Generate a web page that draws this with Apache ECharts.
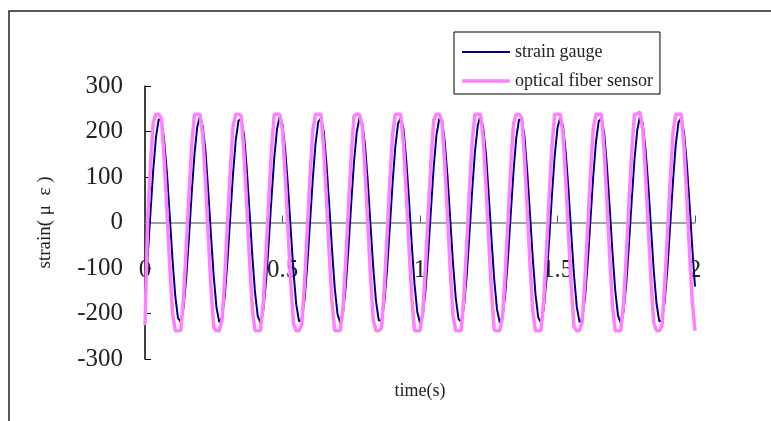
<!DOCTYPE html>
<html>
<head>
<meta charset="utf-8">
<title>strain - time</title>
<script src="https://cdn.jsdelivr.net/npm/echarts@6/dist/echarts.min.js"></script>
<style>
  html, body { margin: 0; padding: 0; background: #fff; }
  #chart { width: 771px; height: 421px; }
</style>
</head>
<body>
<div id="chart"></div>
<script>
  /** 取樣間隔 (s) */
  const sampleStep = 0.01

  /** strain gauge 讀值 (με), 0 ~ 2 s */
  const strainGauge = [
    -158, -72, 23, 116, 188, 227, 225, 178, 107, 14,
    -81, -161, -210, -219, -188, -121, -31, 66, 151, 210,
    234, 211, 157, 68, -29, -119, -187, -219, -210, -162,
    -83, 12, 106, 181, 224, 227, 193, 118, 25, -71,
    -153, -206, -221, -194, -131, -42, 54, 142, 205, 233,
    215, 158, 79, -17, -109, -180, -217, -214, -170, -94,
    0, 95, 173, 221, 229, 199, 128, 37, -59, -144,
    -201, -221, -199, -140, -54, 43, 133, 199, 230, 219,
    170, 90, -6, -99, -173, -215, -216, -177, -104, -12,
    84, 165, 217, 230, 205, 137, 49, -48, -135, -196,
    -221, -204, -149, -65, 31, 123, 193, 228, 226, 177,
    101, 6, -89, -166, -212, -218, -184, -115, -23, 73,
    157, 213, 235, 207, 150, 60, -37, -126, -191, -220,
    -208, -157, -76, 19, 112, 186, 226, 226, 188, 111,
    18, -78, -158, -209, -220, -190, -124, -35, 62, 148,
    208, 231, 212, 153, 71, -25, -116, -185, -219, -212,
    -165, -87, 8, 102, 178, 223, 228, 195, 121, 30,
    -67, -150, -204, -221, -196, -134, -46, 50, 139, 203,
    233, 217, 161, 83, -13, -106, -178, -217, -215, -172,
    -98, -4, 91, 171, 220, 229, 198, 131, 41, -55,
    -141
  ]

  /** optical fiber sensor 讀值 (με) */
  const fiberSensor = [
    -226, 11, 127, 220, 238, 238, 227, 137, 22, -96,
    -197, -238, -238, -238, -166, -56, 64, 172, 238, 238,
    238, 191, 89, -31, -144, -231, -238, -238, -215, -120,
    -3, 114, 211, 238, 238, 235, 150, 37, -83, -187,
    -238, -238, -238, -177, -70, 50, 160, 238, 238, 238,
    202, 102, -16, -132, -223, -238, -238, -224, -133, -18,
    101, 201, 238, 238, 238, 162, 51, -69, -176, -238,
    -238, -238, -188, -84, 35, 148, 234, 238, 238, 212,
    116, -2, -119, -214, -238, -238, -232, -145, -32, 87,
    190, 238, 238, 238, 173, 65, -54, -164, -238, -238,
    -238, -199, -98, 21, 136, 226, 238, 238, 221, 129,
    13, -105, -204, -238, -238, -238, -158, -46, 73, 180,
    238, 238, 238, 184, 79, -40, -152, -237, -238, -238,
    -209, -111, 6, 123, 217, 238, 238, 230, 141, 27,
    -92, -194, -238, -238, -238, -170, -61, 59, 168, 238,
    238, 238, 195, 93, -26, -140, -229, -238, -238, -218,
    -124, -8, 110, 207, 238, 238, 238, 154, 42, -78,
    -183, -238, -238, -238, -181, -75, 45, 156, 238, 238,
    243, 205, 107, -11, -127, -220, -238, -238, -227, -137,
    -23, 96, 197, 238, 238, 238, 166, 56, -64, -172,
    -238
  ]

  const seriesNames = ['strain gauge', 'optical fiber sensor']

  /** 座標軸範圍 */
  const timeRange = [0, 2, 0.5]
  const strainRange = [-300, 300, 100]

  const serif = 'Liberation Serif'

  /** [t, value] */
  function toPairs(values) {
    return values.map((v, i) => [Number((i * sampleStep).toFixed(2)), v])
  }

  const chart = echarts.init(document.getElementById('chart'))
  chart.setOption({
    animation: false,
    backgroundColor: '#fff',
    graphic: [
      {
        type: 'rect',
        silent: true,
        z: -10,
        shape: { x: 9, y: 11, width: 800, height: 500 },
        style: { fill: 'none', stroke: '#222', lineWidth: 1.5 }
      }
    ],
    grid: { left: 145, right: 76, top: 86, bottom: 62, outerBoundsMode: 'none' },
    legend: {
      left: 454,
      top: 32,
      orient: 'vertical',
      itemWidth: 48,
      itemHeight: 18,
      itemGap: 11,
      padding: [11, 7, 4, 8],
      borderColor: '#000',
      borderWidth: 1,
      data: [
        { name: seriesNames[0], icon: 'path://M0,0H48V2H0Z' },
        { name: seriesNames[1], icon: 'path://M0,0H48V3.5H0Z' }
      ],
      textStyle: { fontFamily: serif, fontSize: 18, color: '#222' }
    },
    xAxis: {
      type: 'value',
      min: timeRange[0],
      max: timeRange[1],
      interval: timeRange[2],
      name: 'time(s)',
      nameLocation: 'middle',
      nameGap: 23,
      nameTextStyle: { fontFamily: serif, fontSize: 18, color: '#222' },
      axisLine: { onZero: true, lineStyle: { color: '#808080', width: 1.5 } },
      axisTick: { show: true, inside: true, length: 7, lineStyle: { color: '#555' } },
      axisLabel: {
        margin: -101,
        showMinLabel: true,
        showMaxLabel: true,
        fontFamily: serif,
        fontSize: 25,
        color: '#222',
        formatter: (v) => String(v)
      },
      splitLine: { show: false }
    },
    yAxis: {
      type: 'value',
      min: strainRange[0],
      max: strainRange[1],
      interval: strainRange[2],
      name: 'strain( μ  ε )',
      nameLocation: 'middle',
      nameGap: 90,
      nameTextStyle: { fontFamily: serif, fontSize: 19, color: '#222' },
      axisLine: { show: true, onZero: false, lineStyle: { color: '#000', width: 1.5 } },
      axisTick: { show: true, inside: true, length: 6, lineStyle: { color: '#000' } },
      axisLabel: { margin: 22, fontFamily: serif, fontSize: 25, color: '#222' },
      splitLine: { show: false }
    },
    series: [
      {
        name: seriesNames[0],
        type: 'line',
        data: toPairs(strainGauge),
        symbol: 'none',
        z: 2,
        itemStyle: { color: '#000080' },
        lineStyle: { color: '#000080', width: 2 }
      },
      {
        name: seriesNames[1],
        type: 'line',
        data: toPairs(fiberSensor),
        symbol: 'none',
        z: 3,
        itemStyle: { color: '#ff80ff' },
        lineStyle: { color: '#ff80ff', width: 3.5 }
      }
    ]
  })
</script>
</body>
</html>
